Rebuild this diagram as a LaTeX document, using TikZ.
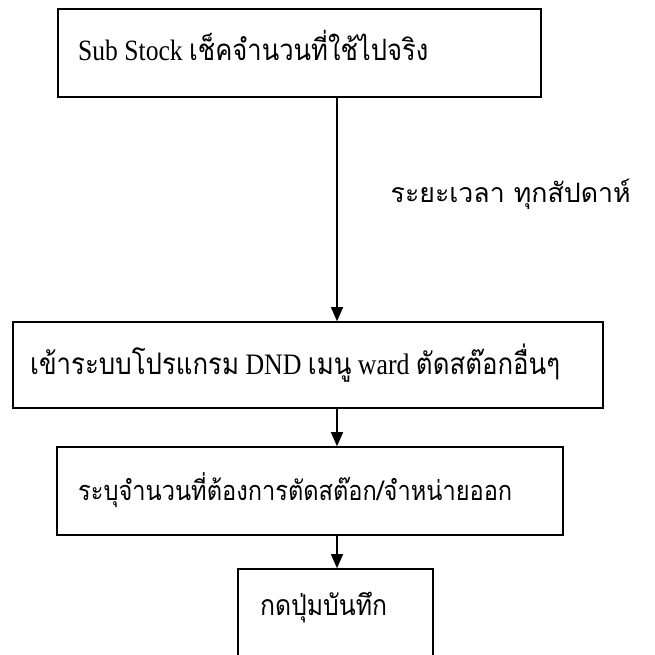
\documentclass[tikz,border=0pt]{standalone}
\usepackage{fontspec}
\usepackage{graphicx}
\setmainfont{Liberation Serif}
\newfontfamily\thai[Script=Thai]{Loma}
\usetikzlibrary{arrows.meta}
\newcommand{\fitbox}[2]{\scalebox{1}[1.15]{\resizebox{#1}{!}{#2}}}
\begin{document}
\begin{tikzpicture}[x=1pt,y=-1pt,
  box/.style={draw, line width=1.6pt, inner sep=0pt},
  txt/.style={anchor=west, inner sep=0pt},
  flow/.style={line width=1.4pt, -{Triangle[length=14pt,width=12pt]}}]
\useasboundingbox (0,0) rectangle (654,655);
\clip (0,0) rectangle (654,655);
\coordinate (ax) at (337,0);
% boxes
\node[box, minimum width=483pt, minimum height=88pt] (b1) at (299.5,53) {};
\node[box, minimum width=590pt, minimum height=86pt] (b2) at (308,365) {};
\node[box, minimum width=506pt, minimum height=88pt] (b3) at (310,491) {};
\node[box, minimum width=195pt, minimum height=140pt] (b4) at (335.5,639) {};
% texts
\node[txt] (t1) at (78,46) {\fitbox{350pt}{Sub Stock {\thai เช็คจำนวนที่ใช้ไปจริง}}};
\node[txt] (t2) at (30,363) {\fitbox{530pt}{{\thai เข้าระบบโปรแกรม} DND {\thai เมนู} ward {\thai ตัดสต๊อกอื่นๆ}}};
\node[txt] (t3) at (78,490) {\fitbox{434pt}{\thai ระบุจำนวนที่ต้องการตัดสต๊อก/จำหน่ายออก}};
\node[txt] (t4) at (260,608) {\fitbox{127pt}{\thai กดปุ่มบันทึก}};
% connectors
\draw[flow] (b1.south -| ax) -- (b2.north -| ax)
  node[pos=0.43, anchor=west, inner sep=0pt, xshift=53pt] (lab) {\resizebox{240pt}{!}{\thai ระยะเวลา ทุกสัปดาห์}};
\draw[flow] (b2.south -| ax) -- (b3.north -| ax);
\draw[flow] (b3.south -| ax) -- (b4.north -| ax);
\end{tikzpicture}
\end{document}
